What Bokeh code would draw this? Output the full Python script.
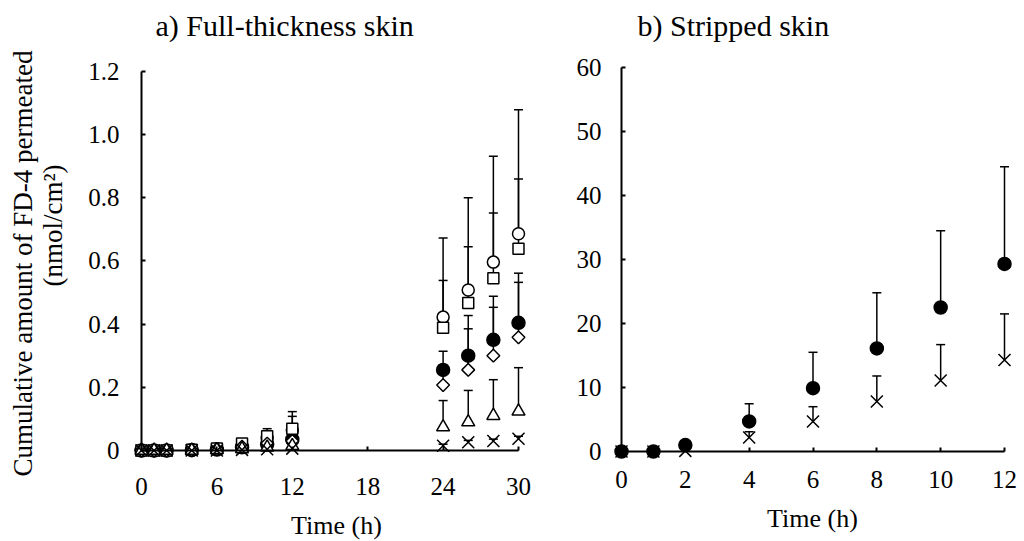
import numpy as np
from bokeh.plotting import figure
from bokeh.models import Range1d, FixedTicker, Label, Whisker, ColumnDataSource, TeeHead
from bokeh.core.properties import value
from bokeh.layouts import row
from bokeh.embed import file_html
from bokeh.resources import INLINE

# ---------------- data: a) Full-thickness skin ----------------
time_a = [0, 1, 2, 4, 6, 8, 10, 12, 24, 26, 28, 30]
open_circle = [0, 0, 0, 0.002, 0.005, 0.015, 0.040, 0.065, 0.422, 0.508, 0.596, 0.686]
open_circle_up = [0, 0, 0, 0.002, 0.005, 0.015, 0.060, 0.108, 0.672, 0.800, 0.931, 1.078]
open_square = [0, 0, 0, 0.002, 0.006, 0.022, 0.045, 0.069, 0.388, 0.467, 0.545, 0.638]
open_square_up = [0, 0, 0, 0.002, 0.006, 0.022, 0.069, 0.123, 0.538, 0.645, 0.751, 0.859]
filled_circle = [0, 0, 0, 0.001, 0.003, 0.010, 0.020, 0.035, 0.255, 0.300, 0.350, 0.404]
filled_circle_up = [0, 0, 0, 0.001, 0.003, 0.010, 0.020, 0.035, 0.314, 0.427, 0.488, 0.561]
open_diamond = [0, 0, 0, 0.001, 0.004, 0.012, 0.022, 0.030, 0.207, 0.255, 0.300, 0.358]
open_diamond_up = [0, 0, 0, 0.001, 0.004, 0.012, 0.022, 0.030, 0.270, 0.385, 0.453, 0.532]
open_triangle = [0, 0, 0, 0, 0.002, 0.005, 0.010, 0.015, 0.074, 0.090, 0.110, 0.124]
open_triangle_up = [0, 0, 0, 0, 0.002, 0.005, 0.010, 0.015, 0.158, 0.190, 0.224, 0.262]
cross_a = [0, 0, 0, 0, 0, 0.002, 0.004, 0.006, 0.015, 0.026, 0.030, 0.037]
cross_a_up = [0, 0, 0, 0, 0, 0.002, 0.004, 0.006, 0.020, 0.032, 0.036, 0.045]

# ---------------- data: b) Stripped skin ----------------
time_b = [0, 1, 2, 4, 6, 8, 10, 12]
filled_b = [0, 0, 1.0, 4.7, 9.9, 16.1, 22.5, 29.3]
filled_b_up = [0, 0, 1.0, 7.45, 15.5, 24.8, 34.5, 44.5]
cross_b = [0, 0, 0.1, 2.2, 4.7, 7.8, 11.1, 14.3]
cross_b_up = [0, 0, 0.1, 3.1, 7.0, 11.8, 16.7, 21.5]

# ---------------- ticks ----------------
xticks_a = [0, 6, 12, 18, 24, 30]
xticklabels_a = ["0", "6", "12", "18", "24", "30"]
yticks_a = [0, 0.2, 0.4, 0.6, 0.8, 1.0, 1.2]
yticklabels_a = ["0", "0.2", "0.4", "0.6", "0.8", "1.0", "1.2"]
xticks_b = [0, 2, 4, 6, 8, 10, 12]
xticklabels_b = ["0", "2", "4", "6", "8", "10", "12"]
yticks_b = [0, 10, 20, 30, 40, 50, 60]
yticklabels_b = ["0", "10", "20", "30", "40", "50", "60"]

title_a = "a) Full-thickness skin"
title_b = "b) Stripped skin"
ylabel_1 = "Cumulative amount of FD-4 permeated"
ylabel_2 = "(nmol/cm\u00b2)"
xlabel = "Time (h)"

FONT = "Liberation Serif"
TICK_FS = "25px"
LABEL_FS = 26
YLABEL_FS = 27
TITLE_FS = 30

H = 541


def ranges(width, x0_px, x1_px, x1_val, y0_px, y1_px, y1_val):
    """Frame = whole canvas; data 0 at x0_px / y0_px (canvas pixels)."""
    sx = (x1_px - x0_px) / x1_val
    sy = (y0_px - y1_px) / y1_val
    xr = Range1d(-x0_px / sx, (width - x0_px) / sx)
    yr = Range1d(-(H - y0_px) / sy, y0_px / sy)
    return xr, yr


def style(p, xticks, yticks, xb, yb):
    xa = p.xaxis[0]
    ya = p.yaxis[0]
    xa.fixed_location = 0
    ya.fixed_location = 0
    xa.bounds = xb
    ya.bounds = yb
    xa.ticker = FixedTicker(ticks=xticks)
    ya.ticker = FixedTicker(ticks=yticks)
    for ax in (xa, ya):
        ax.axis_line_width = 2
        ax.axis_line_color = "black"
        ax.major_tick_in = 4
        ax.major_tick_out = 0
        ax.major_tick_line_width = 2
        ax.major_tick_line_color = "black"
        ax.minor_tick_line_color = None
        ax.major_label_text_color = None
        ax.major_label_text_font_size = "0px"
    p.xgrid.visible = False
    p.ygrid.visible = False
    p.outline_line_color = None
    p.background_fill_color = "white"
    p.border_fill_color = "white"


def tick_labels(p, xticks, xlabels, yticks, ylabels, xstand, ystand):
    # tick labels placed through the plot's own scales at the tick values
    p.text(x=xticks, y=[0] * len(xticks), text=xlabels, y_offset=xstand,
           text_font=value(FONT), text_font_size=value(TICK_FS), text_color="black",
           text_align="center", text_baseline="top")
    p.text(x=[0] * len(yticks), y=yticks, text=ylabels, x_offset=-ystand,
           text_font=value(FONT), text_font_size=value(TICK_FS), text_color="black",
           text_align="right", text_baseline="middle")


def add_series(p, x, y, up, marker, size, fill, angle=0.0):
    ex = [a for a, b, c in zip(x, y, up) if c > b]
    ey = [b for a, b, c in zip(x, y, up) if c > b]
    eu = [c for a, b, c in zip(x, y, up) if c > b]
    if ex:
        es = ColumnDataSource(dict(x=ex, y=ey, upper=eu))
        w = Whisker(base="x", lower="y", upper="upper", source=es,
                    line_width=1.5, line_color="black",
                    upper_head=TeeHead(size=9, line_width=1.5, line_color="black"),
                    lower_head=None)
        p.add_layout(w)
    src = ColumnDataSource(dict(x=x, y=y))
    p.scatter("x", "y", source=src, marker=marker, size=size, angle=angle,
              fill_color=fill, line_color="black", line_width=1.5)


def label(p, x, y, text, fs, align="center", vertical=False):
    """x, y: canvas pixels (from top-left) of the text baseline anchor."""
    off = 0.38 * fs
    if vertical:
        x = x - off
    else:
        y = y - off
    p.add_layout(Label(x=x, y=H - y, x_units="screen", y_units="screen", text=text,
                       text_font=FONT, text_font_size=f"{fs}px", text_color="black",
                       text_align=align, text_baseline="alphabetic",
                       angle=np.pi / 2 if vertical else 0.0))


def make_fig(width, xr, yr):
    return figure(width=width, height=H, x_range=xr, y_range=yr, title=None,
                  output_backend="svg", toolbar_location=None,
                  min_border_left=0, min_border_right=0, min_border_top=0, min_border_bottom=0)


# ---------------- figure a ----------------
WA = 560
xr_a, yr_a = ranges(WA, 141, 518, 30, 450, 70.7, 1.2)
pa = make_fig(WA, xr_a, yr_a)
style(pa, xticks_a, yticks_a, (0, 30), (0, 1.2))
tick_labels(pa, xticks_a, xticklabels_a, yticks_a, yticklabels_a, 27, 22)

add_series(pa, time_a, filled_circle, filled_circle_up, "circle", 13, "black")
add_series(pa, time_a, open_circle, open_circle_up, "circle", 12, "white")
add_series(pa, time_a, open_square, open_square_up, "square", 11, "white")
add_series(pa, time_a, open_diamond, open_diamond_up, "square", 9, "white", np.pi / 4)
add_series(pa, time_a, open_triangle, open_triangle_up, "triangle", 13, "white")
add_series(pa, time_a, cross_a, cross_a_up, "x", 17, None)

label(pa, 155, 36, title_a, TITLE_FS, align="left")
label(pa, 336, 535, xlabel, LABEL_FS)
label(pa, 33, 263, ylabel_1, YLABEL_FS, vertical=True)
label(pa, 63, 225, ylabel_2, YLABEL_FS, vertical=True)

# ---------------- figure b ----------------
WB = 464
xr_b, yr_b = ranges(WB, 61, 444, 12, 451, 67, 60)
pb = make_fig(WB, xr_b, yr_b)
style(pb, xticks_b, yticks_b, (0, 12), (0, 60))
tick_labels(pb, xticks_b, xticklabels_b, yticks_b, yticklabels_b, 19, 20)

add_series(pb, time_b, filled_b, filled_b_up, "circle", 13, "black")
add_series(pb, time_b, cross_b, cross_b_up, "x", 17, None)

label(pb, 77, 36, title_b, TITLE_FS, align="left")
label(pb, 252, 528, xlabel, LABEL_FS)

layout = row(pa, pb)
open("out.html", "w").write(file_html(layout, INLINE))
